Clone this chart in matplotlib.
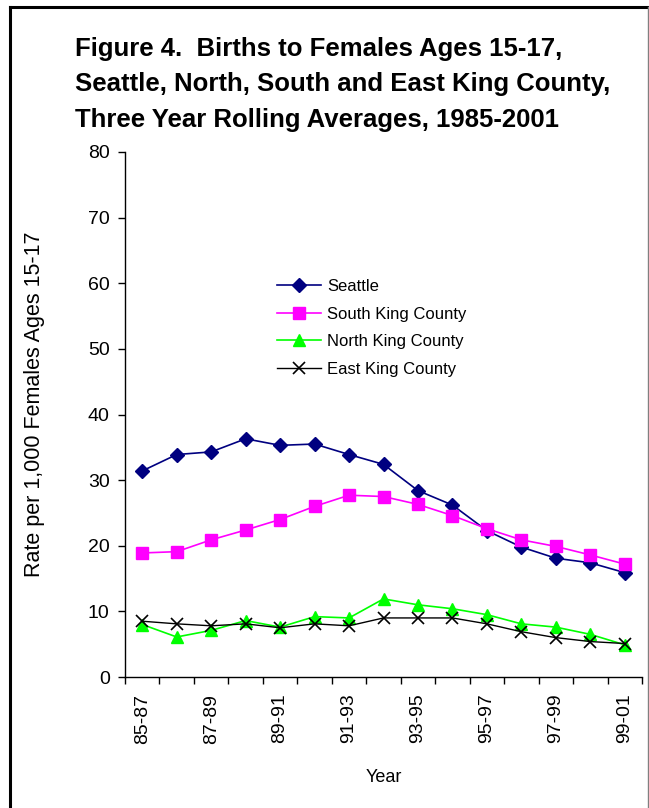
import numpy as np
import matplotlib
matplotlib.use("Agg")
import matplotlib.pyplot as plt
from matplotlib.lines import Line2D

plt.rcParams['font.family'] = ['Liberation Sans', 'DejaVu Sans']

periods = ['85-87', '86-88', '87-89', '88-90', '89-91', '90-92', '91-93', '92-94',
           '93-95', '94-96', '95-97', '96-98', '97-99', '98-00', '99-01']
seattle = [31.4, 33.9, 34.3, 36.3, 35.3, 35.5, 33.9, 32.4, 28.4, 26.2, 22.3, 19.8, 18.1, 17.4, 15.9]
south = [18.9, 19.1, 20.9, 22.4, 24.0, 26.0, 27.7, 27.5, 26.3, 24.6, 22.6, 20.9, 19.9, 18.6, 17.2]
north = [8.0, 6.1, 7.1, 8.6, 7.6, 9.2, 9.0, 11.9, 11.0, 10.4, 9.5, 8.1, 7.6, 6.5, 4.9]
east = [8.5, 8.1, 7.8, 8.1, 7.5, 8.1, 7.8, 9.0, 9.0, 9.0, 8.1, 6.9, 6.0, 5.4, 5.1]

fig = plt.figure(figsize=(6.49, 8.08), dpi=100)
ax = fig.add_axes([125 / 649, 1 - 677 / 808, 517 / 649, 525 / 808])

x = np.arange(len(periods))
ax.plot(x, seattle, color='#000080', marker='D', markersize=7, lw=1.2, label='Seattle')
ax.plot(x, south, color='#FF00FF', marker='s', markersize=8, lw=1.2, label='South King County')
ax.plot(x, north, color='#00FF00', marker='^', markersize=8, lw=1.2, label='North King County')
ax.plot(x, east, color='black', marker='x', markersize=8, mew=1.2, lw=1.0, label='East King County')

ax.set_xlim(-0.5, len(periods) - 0.5)
ax.set_ylim(0, 80)
ax.set_yticks(np.arange(0, 81, 10))
ax.set_xticks(x[::2])
ax.set_xticklabels(periods[::2], rotation=90, fontsize=14)
ax.set_xticks(np.arange(-0.5, len(periods), 1), minor=True)
ax.tick_params(axis='x', which='major', length=0, pad=12)
ax.tick_params(axis='x', which='minor', length=5, width=1, direction='out')
ax.tick_params(axis='y', length=5, width=1, direction='out', labelsize=14, pad=6)
for s in ['top', 'right']:
    ax.spines[s].set_visible(False)
for s in ['left', 'bottom']:
    ax.spines[s].set_linewidth(1.0)

ax.set_ylabel('Rate per 1,000 Females Ages 15-17', fontsize=15.5, labelpad=31)
ax.yaxis.label.set_y(0.519)
ax.set_xlabel('Year', fontsize=13, labelpad=18)

leg = ax.legend(loc='upper left', bbox_to_anchor=(262 / 649, 1 - 264 / 808),
                bbox_transform=fig.transFigure, frameon=False, fontsize=12,
                handlelength=2.65, handletextpad=0.36, labelspacing=0.75)

fig.text(75 / 649, 1 - 37 / 808,
         'Figure 4.  Births to Females Ages 15-17,\n'
         'Seattle, North, South and East King County,\n'
         'Three Year Rolling Averages, 1985-2001',
         fontsize=18.5, fontweight='bold', va='top', ha='left', linespacing=1.6)

# outer frame
fig.add_artist(Line2D([10 / 649, 10 / 649], [0, 1 - 7 / 808], transform=fig.transFigure,
                      color='black', lw=2.2))
fig.add_artist(Line2D([10 / 649, 648 / 649], [1 - 7 / 808, 1 - 7 / 808], transform=fig.transFigure,
                      color='black', lw=2.2))
fig.add_artist(Line2D([648 / 649, 648 / 649], [0, 1 - 7 / 808], transform=fig.transFigure,
                      color='#808080', lw=1.0))

fig.savefig('out.png', dpi=100)
